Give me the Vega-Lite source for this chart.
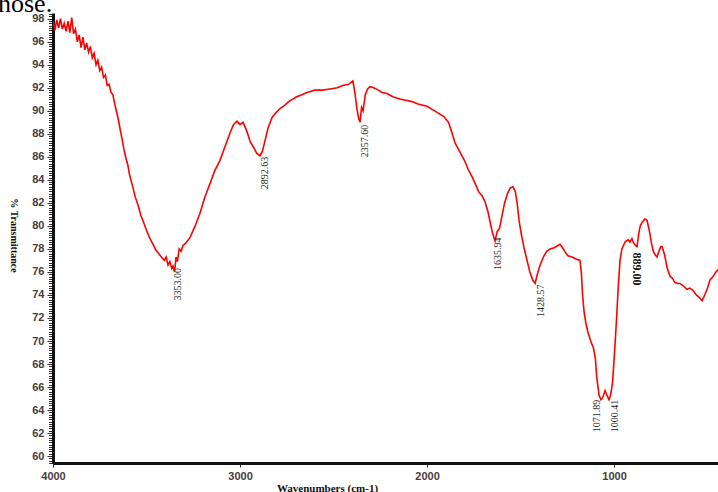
{
  "$schema": "https://vega.github.io/schema/vega-lite/v6.json",
  "width": 665,
  "height": 450,
  "autosize": "none",
  "padding": {"left": 53, "top": 13, "right": 0, "bottom": 29},
  "background": "white",
  "title": {"text": "hose.", "anchor": "start", "frame": "group", "dx": -55, "dy": 30, "offset": 0, "baseline": "alphabetic", "font": "Liberation Serif", "fontSize": 26, "fontWeight": "normal", "color": "black"},
  "config": {"view": {"stroke": null}},
  "datasets": {
    "spectrum": [
      {"wn":4000,"t":97.8},{"wn":3990,"t":97.0},{"wn":3980,"t":97.9},{"wn":3970,"t":97.2},{"wn":3960,"t":98.0},{"wn":3950,"t":97.1},{"wn":3940,"t":97.6},{"wn":3930,"t":96.9},{"wn":3920,"t":97.8},{"wn":3910,"t":96.8},{"wn":3900,"t":98.1},{"wn":3890,"t":96.7},{"wn":3880,"t":97.1},{"wn":3870,"t":96.0},{"wn":3860,"t":96.6},{"wn":3850,"t":95.5},{"wn":3840,"t":96.4},{"wn":3830,"t":95.3},{"wn":3820,"t":95.9},{"wn":3810,"t":95.1},{"wn":3800,"t":95.6},{"wn":3790,"t":94.6},{"wn":3780,"t":95.0},{"wn":3770,"t":94.0},{"wn":3760,"t":94.4},{"wn":3750,"t":93.5},{"wn":3740,"t":93.8},{"wn":3730,"t":92.9},{"wn":3720,"t":93.1},{"wn":3710,"t":92.2},{"wn":3700,"t":92.3},{"wn":3690,"t":91.6},{"wn":3680,"t":91.4},{"wn":3670,"t":90.6},{"wn":3660,"t":89.9},{"wn":3650,"t":89.2},{"wn":3640,"t":88.3},{"wn":3630,"t":87.5},{"wn":3620,"t":86.6},{"wn":3610,"t":85.9},{"wn":3600,"t":85.3},{"wn":3590,"t":84.4},{"wn":3575,"t":83.5},{"wn":3560,"t":82.5},{"wn":3545,"t":81.8},{"wn":3530,"t":80.9},{"wn":3515,"t":80.3},{"wn":3500,"t":79.6},{"wn":3481,"t":78.9},{"wn":3465,"t":78.4},{"wn":3450,"t":77.9},{"wn":3435,"t":77.6},{"wn":3420,"t":77.3},{"wn":3405,"t":77.0},{"wn":3395,"t":77.3},{"wn":3385,"t":76.6},{"wn":3375,"t":76.9},{"wn":3365,"t":76.3},{"wn":3358,"t":76.5},{"wn":3350,"t":76.0},{"wn":3342,"t":77.3},{"wn":3335,"t":76.9},{"wn":3325,"t":78.0},{"wn":3315,"t":77.8},{"wn":3305,"t":78.3},{"wn":3290,"t":78.5},{"wn":3267,"t":79.0},{"wn":3240,"t":80.0},{"wn":3214,"t":81.1},{"wn":3190,"t":82.4},{"wn":3160,"t":83.7},{"wn":3135,"t":84.8},{"wn":3107,"t":85.7},{"wn":3080,"t":86.9},{"wn":3053,"t":88.1},{"wn":3035,"t":88.8},{"wn":3016,"t":89.1},{"wn":3000,"t":88.8},{"wn":2984,"t":89.0},{"wn":2965,"t":88.3},{"wn":2945,"t":87.3},{"wn":2930,"t":86.9},{"wn":2910,"t":86.3},{"wn":2893,"t":86.1},{"wn":2880,"t":86.5},{"wn":2865,"t":87.5},{"wn":2850,"t":88.5},{"wn":2829,"t":89.4},{"wn":2810,"t":89.8},{"wn":2786,"t":90.2},{"wn":2760,"t":90.5},{"wn":2740,"t":90.8},{"wn":2720,"t":91.0},{"wn":2700,"t":91.2},{"wn":2670,"t":91.4},{"wn":2642,"t":91.6},{"wn":2600,"t":91.8},{"wn":2560,"t":91.8},{"wn":2519,"t":91.9},{"wn":2480,"t":92.0},{"wn":2450,"t":92.2},{"wn":2420,"t":92.3},{"wn":2396,"t":92.6},{"wn":2385,"t":91.5},{"wn":2375,"t":90.2},{"wn":2365,"t":89.3},{"wn":2358,"t":89.0},{"wn":2350,"t":90.3},{"wn":2342,"t":90.0},{"wn":2330,"t":91.4},{"wn":2318,"t":91.9},{"wn":2305,"t":92.1},{"wn":2285,"t":92.0},{"wn":2260,"t":91.8},{"wn":2240,"t":91.6},{"wn":2214,"t":91.5},{"wn":2180,"t":91.2},{"wn":2140,"t":91.0},{"wn":2107,"t":90.9},{"wn":2080,"t":90.8},{"wn":2048,"t":90.6},{"wn":2000,"t":90.4},{"wn":1970,"t":90.1},{"wn":1940,"t":89.8},{"wn":1910,"t":89.5},{"wn":1885,"t":89.0},{"wn":1865,"t":88.0},{"wn":1850,"t":87.2},{"wn":1830,"t":86.6},{"wn":1810,"t":86.0},{"wn":1797,"t":85.6},{"wn":1780,"t":84.9},{"wn":1760,"t":84.3},{"wn":1743,"t":83.7},{"wn":1725,"t":83.0},{"wn":1705,"t":82.6},{"wn":1690,"t":82.1},{"wn":1675,"t":81.3},{"wn":1662,"t":80.3},{"wn":1650,"t":79.4},{"wn":1642,"t":79.0},{"wn":1636,"t":78.7},{"wn":1625,"t":79.5},{"wn":1612,"t":79.8},{"wn":1600,"t":80.8},{"wn":1585,"t":82.0},{"wn":1570,"t":82.8},{"wn":1555,"t":83.3},{"wn":1540,"t":83.4},{"wn":1528,"t":83.0},{"wn":1518,"t":82.0},{"wn":1508,"t":80.5},{"wn":1495,"t":79.2},{"wn":1480,"t":78.0},{"wn":1465,"t":77.0},{"wn":1450,"t":76.0},{"wn":1435,"t":75.3},{"wn":1422,"t":75.0},{"wn":1410,"t":75.8},{"wn":1395,"t":76.6},{"wn":1378,"t":77.3},{"wn":1360,"t":77.8},{"wn":1342,"t":78.0},{"wn":1320,"t":78.1},{"wn":1300,"t":78.3},{"wn":1289,"t":78.4},{"wn":1275,"t":78.1},{"wn":1260,"t":77.7},{"wn":1246,"t":77.4},{"wn":1225,"t":77.3},{"wn":1200,"t":77.1},{"wn":1182,"t":77.0},{"wn":1175,"t":76.0},{"wn":1168,"t":74.0},{"wn":1160,"t":72.5},{"wn":1150,"t":71.5},{"wn":1140,"t":70.8},{"wn":1125,"t":70.0},{"wn":1110,"t":69.4},{"wn":1100,"t":68.5},{"wn":1092,"t":66.8},{"wn":1080,"t":65.3},{"wn":1070,"t":64.9},{"wn":1060,"t":65.1},{"wn":1048,"t":65.7},{"wn":1038,"t":65.3},{"wn":1027,"t":64.9},{"wn":1018,"t":65.3},{"wn":1008,"t":66.4},{"wn":998,"t":68.8},{"wn":988,"t":71.5},{"wn":978,"t":74.5},{"wn":968,"t":77.0},{"wn":958,"t":78.0},{"wn":941,"t":78.6},{"wn":925,"t":78.8},{"wn":915,"t":78.6},{"wn":904,"t":78.9},{"wn":895,"t":78.5},{"wn":885,"t":78.3},{"wn":877,"t":78.2},{"wn":868,"t":79.3},{"wn":860,"t":80.0},{"wn":850,"t":80.3},{"wn":836,"t":80.6},{"wn":824,"t":80.5},{"wn":810,"t":79.5},{"wn":800,"t":78.5},{"wn":790,"t":77.8},{"wn":780,"t":77.5},{"wn":770,"t":77.3},{"wn":760,"t":77.8},{"wn":750,"t":78.2},{"wn":743,"t":78.2},{"wn":730,"t":77.5},{"wn":715,"t":76.3},{"wn":700,"t":75.6},{"wn":690,"t":75.5},{"wn":675,"t":75.1},{"wn":660,"t":75.0},{"wn":647,"t":75.0},{"wn":630,"t":74.8},{"wn":610,"t":74.5},{"wn":595,"t":74.6},{"wn":578,"t":74.4},{"wn":560,"t":74.0},{"wn":545,"t":73.8},{"wn":529,"t":73.5},{"wn":515,"t":74.0},{"wn":500,"t":74.6},{"wn":487,"t":75.3},{"wn":470,"t":75.6},{"wn":455,"t":76.0},{"wn":444,"t":76.2}
    ],
    "peaks": [
      {"wn":3332,"t":76.35,"label":"3353.00"},
      {"wn":2866,"t":86.0,"label":"2892.63"},
      {"wn":2332,"t":88.8,"label":"2357.60"},
      {"wn":1620,"t":79.0,"label":"1635.94"},
      {"wn":1390,"t":74.9,"label":"1428.57"},
      {"wn":1091,"t":64.9,"label":"1071.89"},
      {"wn":995,"t":64.9,"label":"1000.41"}
    ],
    "peakBold": [
      {"wn":877,"t":77.7,"label":"889.00"}
    ]
  },
  "layer": [
    {
      "data": {"name": "spectrum"},
      "mark": {"type": "line", "color": "#ff0000", "strokeWidth": 1.6, "clip": true},
      "encoding": {
        "x": {
          "field": "wn", "type": "quantitative",
          "scale": {"domain": [4000, 444], "nice": false, "zero": false},
          "axis": {
            "values": [4000, 3000, 2000, 1000], "format": "d", "grid": false,
            "domainColor": "#111111", "domainWidth": 3,
            "tickColor": "#3a2a2a", "tickSize": 4, "tickWidth": 1,
            "labelFont": "Liberation Sans", "labelFontWeight": "bold", "labelFontSize": 11,
            "labelColor": "#473c3c", "labelPadding": 3, "labelFlush": false, "labelOverlap": false,
            "title": "Wavenumbers (cm-1)", "titleFont": "Liberation Serif", "titleFontSize": 11,
            "titleFontWeight": "bold", "titleColor": "#111111",
            "titleX": 274, "titleY": 19, "titleBaseline": "top", "titleAlign": "center"
          }
        },
        "y": {
          "field": "t", "type": "quantitative",
          "scale": {"domain": [59.4, 98.5], "nice": false, "zero": false},
          "axis": {
            "tickCount": 160, "grid": false,
            "domainColor": "#111111", "domainWidth": 3,
            "tickColor": "#3a2a2a", "tickWidth": 1,
            "tickSize": {"condition": {"test": "abs(datum.value % 2) < 0.001", "value": 6}, "value": 4.5},
            "labelExpr": "abs(datum.value % 2) < 0.001 ? format(datum.value, 'd') : ''",
            "labelFont": "Liberation Sans", "labelFontWeight": "bold", "labelFontSize": 11,
            "labelColor": "#473c3c", "labelPadding": 3, "labelFlush": false, "labelOverlap": false,
            "title": "% Transmittance", "titleFont": "Liberation Serif", "titleFontSize": 10,
            "titleFontWeight": "bold", "titleColor": "#111111", "titleAngle": 90,
            "titleX": -40, "titleY": 222, "titleBaseline": "middle", "titleAlign": "center"
          }
        }
      }
    },
    {
      "data": {"name": "peaks"},
      "mark": {"type": "text", "angle": 270, "align": "right", "baseline": "middle", "font": "Liberation Serif", "fontSize": 10, "color": "#2a2a2a"},
      "encoding": {
        "x": {"field": "wn", "type": "quantitative"},
        "y": {"field": "t", "type": "quantitative"},
        "text": {"field": "label"}
      }
    },
    {
      "data": {"name": "peakBold"},
      "mark": {"type": "text", "angle": 90, "align": "left", "baseline": "middle", "font": "Liberation Serif", "fontSize": 12, "fontWeight": "bold", "color": "#111111"},
      "encoding": {
        "x": {"field": "wn", "type": "quantitative"},
        "y": {"field": "t", "type": "quantitative"},
        "text": {"field": "label"}
      }
    }
  ]
}
